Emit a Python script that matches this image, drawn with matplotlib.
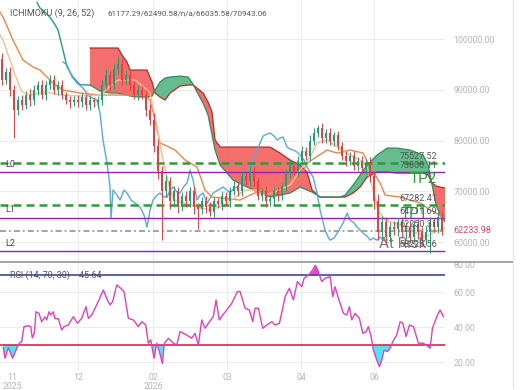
import matplotlib
matplotlib.use("Agg")
import matplotlib.pyplot as plt
import numpy as np
from matplotlib.lines import Line2D

plt.rcParams['font.family'] = ['Roboto', 'DejaVu Sans']

# daily candles, prices in thousands USD (open = previous close)
first_open = 96.0
closes = [92, 93.5, 90, 86, 88, 87, 89, 88, 90, 91,
          89, 91, 92, 90, 91, 89, 88, 87.5, 88, 87.5,
          88.5, 87, 88, 87.5, 88, 91, 93, 91, 94, 95,
          92, 93, 91, 89, 90, 89, 86, 84, 79, 74,
          70, 72, 68, 70, 67, 69, 68, 70, 67, 66.5,
          68, 67, 66, 68, 67.5, 69, 68, 70, 71, 70,
          73, 72, 74, 72, 69, 70, 68, 68.5, 70, 69,
          71, 73.5, 75, 74, 76, 78, 77, 80, 81.5, 82.5,
          80.5, 81.5, 80, 81, 79, 77, 76, 77, 75, 76,
          74.5, 75.5, 73, 68, 62, 64, 61, 63, 62.5, 64,
          62, 63, 61, 63.5, 62, 60.5, 62, 64, 63, 65,
          62.23]
upper_wick = [1.2, 0.8, 1.0, 0.9, 0.7, 1.0, 0.8, 1.1, 0.9, 0.8,
              1.0, 0.7, 0.9, 1.0, 0.8, 0.9, 0.6, 0.8, 0.7, 0.9,
              0.8, 0.7, 0.9, 0.6, 0.8, 0.9, 1.1, 0.8, 1.0, 1.6,
              1.2, 0.9, 1.0, 0.8, 0.9, 0.7, 1.0, 1.2, 1.5, 1.3,
              1.0, 1.2, 0.9, 1.0, 0.8, 0.9, 1.1, 0.8, 1.0, 0.7,
              0.9, 1.0, 0.8, 0.9, 0.7, 1.0, 0.8, 0.9, 1.0, 0.8,
              1.1, 0.9, 1.0, 0.8, 0.9, 0.7, 1.0, 0.8, 0.9, 1.0,
              0.8, 0.9, 1.1, 0.8, 1.0, 0.9, 0.8, 1.0, 0.9, 0.5,
              0.9, 0.8, 1.0, 0.7, 0.9, 0.8, 1.0, 0.7, 0.9, 0.8,
              1.0, 0.8, 1.2, 1.0, 1.5, 1.2, 1.0, 0.9, 1.1, 0.8,
              1.0, 0.9, 1.2, 0.8, 1.0, 0.9, 1.1, 1.0, 0.8, 1.0,
              1.2]
lower_wick = [1.0, 0.8, 1.2, 5.4, 0.9, 1.0, 0.8, 1.1, 0.9, 1.0,
              0.8, 1.0, 0.9, 0.8, 1.0, 0.9, 0.8, 1.0, 0.7, 0.9,
              0.8, 1.0, 0.9, 0.8, 1.0, 0.9, 0.8, 1.0, 0.9, 0.8,
              1.0, 0.9, 1.1, 0.8, 1.0, 0.9, 1.2, 1.0, 1.3, 1.5,
              9.5, 1.2, 1.5, 1.0, 1.3, 0.9, 1.1, 1.0, 1.4, 4.0,
              1.0, 1.2, 0.9, 1.0, 0.8, 1.1, 0.9, 1.0, 0.8, 0.9,
              1.0, 0.8, 0.9, 1.0, 0.8, 0.9, 1.1, 0.8, 1.0, 0.9,
              0.8, 1.0, 0.9, 0.8, 1.0, 0.9, 0.8, 1.0, 0.9, 0.8,
              1.0, 0.9, 0.8, 1.0, 0.9, 0.8, 1.0, 0.9, 0.8, 1.0,
              0.9, 1.0, 1.2, 1.5, 1.5, 1.2, 1.3, 1.0, 1.2, 1.4,
              1.1, 1.3, 1.2, 1.0, 1.4, 1.2, 1.0, 4.2, 1.0, 1.2,
              0.8]

# ichimoku lines (x in bar units)
tenkan_x = [0, 0.75, 2.5, 4.25, 5.5, 7.5, 11.25, 15, 20, 25,
            27, 29.5, 33.75, 36.25, 37.5, 39.25, 40.75, 42.5, 43.75, 47.5,
            52.5, 56.25, 58.75, 61.25, 63.75, 66.25, 68.75, 72.5, 75, 77.5,
            79.25, 81.75, 84.25, 87.5, 90, 91.75, 93.25, 94.5, 96.25, 100,
            103.75, 106.25, 108.75, 111.25]
tenkan = [100.79, 99.80, 95.86, 91.92, 89.56, 88.97, 89.56, 88.97, 88.77, 88.97,
          90.34, 91.92, 91.92, 90.34, 89.36, 82.66, 76.16, 70.25, 68.28, 67.29,
          66.31, 67.29, 68.87, 70.25, 70.25, 69.26, 69.85, 71.23, 74.19, 76.75,
          79.51, 80.10, 78.72, 77.14, 76.16, 74.78, 70.25, 66.31, 64.33, 63.35,
          61.97, 60.99, 61.97, 62.76]
kijun_x = [0, 0.75, 3.25, 5.75, 8.25, 10, 13.25, 15.75, 20, 25,
           36.25, 37.5, 38.75, 40, 41.25, 43.75, 46.25, 49.25, 51.25, 53,
           60, 62.5, 65.5, 68.75, 72.5, 75, 76.75, 81.75, 84.25, 87.5,
           90.75, 92.5, 95, 96.25, 100, 105, 107.5, 111.25]
kijun = [105.32, 104.33, 99.80, 95.86, 94.48, 93.89, 91.33, 89.95, 89.36, 88.97,
         88.97, 87.98, 84.04, 79.51, 79.11, 78.13, 76.16, 74.78, 70.25, 68.87,
         68.28, 69.26, 70.25, 70.64, 71.23, 72.61, 75.57, 78.13, 77.54, 78.13,
         77.54, 74.78, 71.63, 69.26, 68.87, 67.68, 66.31, 64.73]
chikou_x = [15.75, 16.75, 18, 19.25, 20.75, 22.5, 24.25, 25, 25.75, 26.75,
            27.5, 27.75, 28.25, 29.25, 30, 31, 31.75, 32.75, 33.75, 35,
            36, 36.75, 37.5, 38.25, 39.25, 40, 41, 41.75, 42.5, 43.25,
            44.25, 45, 46, 46.75, 47.5, 48.25, 49.25, 50, 50.75, 51.75,
            52.5, 53.25, 54.5, 55.75, 56.75, 57.5, 58.5, 59.25, 60, 60.75,
            61.75, 62.5, 63.5, 64.25, 65, 65.75, 66.75, 67.5, 68.5, 69.25,
            70, 70.75, 71.75, 72.5, 73.25, 74.25, 75, 76, 76.75, 77.5,
            78.25, 79.25, 80, 80.75, 81.25, 82, 82.5, 83.5, 84.25, 85,
            85.75, 86.75, 87.5, 88.5, 89.25, 90, 90.75, 91.75, 92.5, 93.25,
            94.25, 95, 95.75, 96.75]
chikou = [95.47, 94.88, 92.51, 91.33, 90.34, 88.57, 87.98, 85.42, 80.10, 75.57,
          70.84, 64.73, 70.25, 69.26, 68.28, 70.25, 69.66, 68.28, 67.68, 66.90,
          65.32, 62.96, 66.31, 68.28, 69.26, 69.66, 68.87, 68.87, 70.25, 70.84,
          69.85, 69.66, 71.03, 71.63, 74.19, 72.22, 68.28, 69.26, 69.66, 67.68,
          68.67, 69.66, 70.25, 70.84, 70.25, 69.66, 70.64, 70.84, 71.63, 72.61,
          73.79, 74.78, 76.75, 78.13, 79.51, 80.89, 81.28, 81.48, 80.89, 80.10,
          80.49, 80.69, 78.72, 78.33, 78.13, 77.73, 77.14, 76.16, 74.78, 73.79,
          72.81, 69.66, 66.31, 63.94, 62.36, 60.99, 60.39, 60.79, 61.77, 62.76,
          63.74, 65.71, 64.33, 63.74, 62.96, 62.36, 61.77, 61.18, 60.39, 60.79,
          60.39, 60.99, 60.39, 60.00]
lead_x = [9.25, 10, 11.25, 12.5, 13.75, 14.5, 15.25, 15.75, 16.75, 18.25, 20, 22.5]
lead = [107.2, 106.1, 105.3, 104.3, 102.8, 101.8, 99.4, 97.8, 94.5, 92.5, 91.0, 90.94]

cloud_x = [22.5, 25, 27.5, 29.5, 30.5, 31.75, 32.5, 35, 36.75, 38,
           38.75, 40, 41.25, 42.5, 45, 47, 48.25, 49.25, 50.75, 52,
           53, 53.75, 55, 58.25, 61.75, 65, 67.5, 70, 72.5, 75,
           76.75, 78, 80, 85, 86.25, 88.25, 90, 91.75, 94.25, 96.75,
           99.25, 102.5, 105.75, 107, 108, 109, 110, 111.25]
span_a = [90.94, 89.75, 89.36, 89.36, 89.16, 88.97, 88.77, 88.57, 88.57, 88.77,
          89.95, 91.53, 92.31, 92.51, 92.71, 92.51, 91.13, 89.56, 87.39, 85.02,
          81.08, 78.13, 75.17, 72.22, 70.84, 69.66, 68.87, 69.26, 69.66, 70.84,
          70.25, 69.85, 68.87, 68.87, 69.26, 71.23, 73.20, 75.17, 77.14, 78.52,
          78.52, 78.13, 77.14, 75.17, 71.23, 67.29, 65.32, 63.94]
span_b = [98.23, 98.23, 98.23, 98.23, 96.85, 95.47, 93.89, 93.89, 93.89, 91.53,
          89.36, 88.57, 87.98, 89.36, 90.74, 90.94, 90.94, 90.34, 89.36, 87.59,
          85.62, 80.10, 78.72, 78.72, 78.72, 78.72, 78.72, 77.54, 76.16, 75.17,
          73.79, 70.25, 68.87, 68.87, 68.87, 69.66, 70.84, 72.81, 73.79, 73.79,
          73.60, 73.60, 73.60, 73.20, 71.63, 71.03, 70.84, 70.64]

# horizontal levels
levels = [75527.52, 73800.11, 67282.41, 64711.69, 62250.31, 58225.56]
level_kind = ['tp', 'line', 'tp', 'line', 'entry', 'line']
last_price = 62233.98

# RSI
rsi_x = [0.83, 1.25, 2.08, 3.17, 4.17, 4.83, 5.42, 6, 7.08, 7.67,
         8.08, 8.58, 9, 9.75, 10.42, 11.25, 11.67, 12.25, 12.67, 13.33,
         13.75, 14.58, 15.42, 16, 17.08, 18.33, 19.33, 20.42, 21.5, 22.08,
         22.92, 24.17, 25.83, 26.83, 27.5, 28.17, 29.17, 30.17, 31, 32.08,
         33.33, 34.58, 35.42, 36.42, 37.08, 37.67, 38.5, 39.17, 39.83, 40.58,
         41.08, 42.08, 43.33, 44.17, 45, 46.67, 47.92, 48.75, 49.58, 50.42,
         51.25, 52.08, 53.33, 54, 54.83, 55.67, 56.67, 57.92, 59.33, 60,
         61.25, 62.33, 63.17, 63.75, 64.58, 65.67, 66.67, 67.92, 68.75, 69.83,
         70.67, 71.25, 72.33, 73.33, 74.33, 75.42, 76, 77.08, 78.17, 78.75,
         79.17, 80.42, 81.25, 82.5, 83.17, 83.75, 84.58, 85.83, 86.67, 87.33,
         87.92, 88.75, 89.83, 90.67, 91.5, 92.08, 92.67, 93.33, 94.17, 94.83,
         95.42, 96, 96.83, 97.5, 98.17, 99.17, 100, 100.67, 101.5, 102.33,
         103.33, 104.58, 105.83, 107.08, 107.5, 108.08, 109.17, 110, 110.83]
rsi = [28.5, 22.4, 28.5, 22.4, 28, 31, 32, 40.5, 41, 40.5,
       34, 36.7, 49, 48, 43.3, 46, 44.3, 49, 47, 49,
       45, 45, 38.6, 40.5, 41.4, 46.2, 42.4, 45.2, 51.9, 45.2,
       47.1, 52.9, 61.4, 55.7, 52.9, 54.8, 64.3, 62.4, 60.5, 45.2,
       44.3, 40.5, 43.3, 41.4, 31, 32.9, 22.4, 31, 26.2, 19.5,
       31, 33.8, 31, 30, 37.6, 35.7, 33.8, 36.7, 30, 44.3,
       39.5, 42.4, 46.2, 55.7, 44.3, 47.1, 50, 53.8, 60.5, 60.5,
       51, 50, 43.3, 51, 51, 39.5, 41.4, 43.3, 41.4, 42.4,
       51, 57.6, 62.4, 55.7, 66.2, 63.3, 68.1, 70, 72.9, 75.5,
       74.2, 66.2, 68.1, 69, 57.6, 63.3, 56.7, 48.1, 47.1, 51.9,
       44.3, 48.1, 45.2, 36.7, 37.6, 40.5, 35.7, 27.1, 21.4, 17.6,
       21.4, 27.1, 26.2, 28.1, 31.9, 35.7, 43.3, 42.4, 34.8, 41.4,
       40.5, 31, 31, 29, 28.1, 39.5, 46.2, 50, 46.2]

month_ticks = [3, 19.5, 38.25, 56.75, 75.25, 93.5]
month_labels = ['11\n2025', '12', '02\n2026', '03', '04', '06']
price_ticks = [60, 70, 80, 90, 100]
rsi_ticks = [20, 40, 60]

GREEN = '#1f9e6e'
RED = '#ee3b3b'
GRID = '#ececec'
AXTXT = '#b5b5b5'

fig = plt.figure(figsize=(5.2, 3.9), dpi=100)
ax = fig.add_axes([0, 0.328, 0.856, 0.672])
ax2 = fig.add_axes([0, 20 / 390, 0.856, 108 / 390])

for a in (ax, ax2):
    for s in a.spines.values():
        s.set_visible(False)
    a.set_xlim(0, 111.25)
    for t in month_ticks[1:]:
        a.axvline(t, color=GRID, lw=0.8, zorder=0)

# ---- price panel
ax.set_ylim(56.06, 107.69)
for v in price_ticks:
    ax.axhline(v, color=GRID, lw=0.8, zorder=0)

a_arr = np.array(span_a)
b_arr = np.array(span_b)
ax.fill_between(cloud_x, a_arr, b_arr, where=a_arr >= b_arr, interpolate=True,
                color='#55b582', alpha=0.9, lw=0, zorder=1)
ax.fill_between(cloud_x, a_arr, b_arr, where=a_arr < b_arr, interpolate=True,
                color='#f35e5e', alpha=0.9, lw=0, zorder=1)
ax.plot(cloud_x, span_b, color='#b52a2a', lw=0.9, zorder=2)
ax.plot(cloud_x, span_a, color='#2a8f5e', lw=0.9, zorder=2)
ax.plot(lead_x, lead, color='#2a9a7f', lw=1.0, zorder=2)

ax.plot(chikou_x, chikou, color='#5aa8dc', lw=1.0, zorder=3)
ax.plot(kijun_x, kijun, color='#e8874a', lw=1.0, zorder=3)
ax.plot(tenkan_x, tenkan, color='#f6bf8e', lw=1.0, zorder=3)

for lv, kind in zip(levels, level_kind):
    y = lv / 1000
    if kind == 'tp':
        ax.axhline(y, color='#2e9a3a', lw=1.8, dashes=(3.2, 2.0), zorder=4)
    elif kind == 'line':
        ax.axhline(y, color='#8e24aa', lw=1.0, zorder=4)
    else:
        ax.axhline(y, color='#9a9a9a', lw=1.3, dashes=(3.3, 1.7, 1, 1.7), zorder=4)
    ax.annotate(f'{lv:.2f}', (109.25, y), xytext=(0, 1.5), textcoords='offset points',
                ha='right', va='bottom', fontsize=6.5, color='#555555', zorder=7)

ax.text(1.2, 75.3, 'L0', fontsize=6.5, color='#444444', va='center', zorder=7)
ax.text(1.2, 66.5, 'L1', fontsize=6.5, color='#444444', va='center', zorder=7)
ax.text(1.2, 59.8, 'L2', fontsize=6.5, color='#444444', va='center', zorder=7)
ax.text(109.25, 72.4, 'TP2', fontsize=11, color='#2e9a3a', ha='right', va='center', zorder=4)
ax.text(107, 65.5, 'TP1', fontsize=11, color='#2e9a3a', ha='right', va='center', zorder=4)
ax.text(106.5, 59.6, 'At Risk', fontsize=11, color='#7a7a7a', ha='right', va='center', zorder=4)

# candles
c = np.array(closes)
o = np.array([first_open] + closes[:-1])
hi = np.maximum(o, c) + np.array(upper_wick)
lo = np.minimum(o, c) - np.array(lower_wick)
xc = np.arange(len(c)) + 0.5
col = np.where(c >= o, GREEN, RED)
ax.vlines(xc, lo, hi, colors=col, lw=0.7, zorder=5)
ax.bar(xc, np.maximum(np.abs(c - o), 0.2), bottom=np.minimum(o, c), width=0.55,
       color=col, lw=0, zorder=5)

ax.set_xticks([])
ax.yaxis.tick_right()
ax.set_yticks(price_ticks)
ax.set_yticklabels([f'{v * 1000:.2f}' for v in price_ticks])
ax.tick_params(axis='y', length=0, pad=6, labelsize=6.3, labelcolor=AXTXT)
ax.text(1.018, last_price / 1000, f'{last_price:.2f}', transform=ax.get_yaxis_transform(),
        fontsize=6.5, color='#e0455e', va='center', ha='left')

# ---- RSI panel
ax2.set_ylim(15.7, 77.4)
for v in rsi_ticks:
    ax2.axhline(v, color=GRID, lw=0.8, zorder=0)
rx = np.array(rsi_x)
rv = np.array(rsi)
ax2.fill_between(rx, rv, 70, where=rv > 70, interpolate=True, color='#e846d4', lw=0, zorder=1)
ax2.fill_between(rx, rv, 30, where=rv < 30, interpolate=True, color='#52e3f2', lw=0, zorder=1)
ax2.axhline(70, color='#3b4a9c', lw=1.2, zorder=2)
ax2.axhline(30, color='#e0204a', lw=1.2, zorder=2)
ax2.plot(rx, rv, color='#e040b8', lw=1.0, zorder=3)

ax2.yaxis.tick_right()
ax2.set_yticks(rsi_ticks)
ax2.set_yticklabels([f'{v:.2f}' for v in rsi_ticks])
ax2.tick_params(axis='y', length=0, pad=6, labelsize=6.3, labelcolor=AXTXT)
ax2.text(1.018, 75.6, '80.00', transform=ax2.get_yaxis_transform(),
         fontsize=6.3, color=AXTXT, va='center', ha='left')
ax2.set_xticks(month_ticks)
ax2.set_xticklabels(month_labels, linespacing=1.0)
ax2.tick_params(axis='x', length=0, pad=2, labelsize=6.3, labelcolor=AXTXT)

# ---- frame and headers
fig.add_artist(Line2D([0, 513 / 520], [1 - 262 / 390] * 2, color='#9e9e9e', lw=1.3))
fig.add_artist(Line2D([513 / 520] * 2, [1 - 388 / 390, 1], color='#e2e2e2', lw=0.8))
fig.text(10 / 520, 1 - 13 / 390, 'ICHIMOKU (9, 26, 52)',
         fontsize=6.5, color='#555555', va='center')
fig.text(107 / 520, 1 - 13 / 390, '61177.29/62490.58/n/a/66035.58/70943.06',
         fontsize=5.8, color='#555555', va='center')
fig.text(10 / 520, 1 - 275 / 390, 'RSI (14, 70, 30)    45.64',
         fontsize=6.5, color='#555555', va='center')

fig.savefig('out.png', dpi=100)
